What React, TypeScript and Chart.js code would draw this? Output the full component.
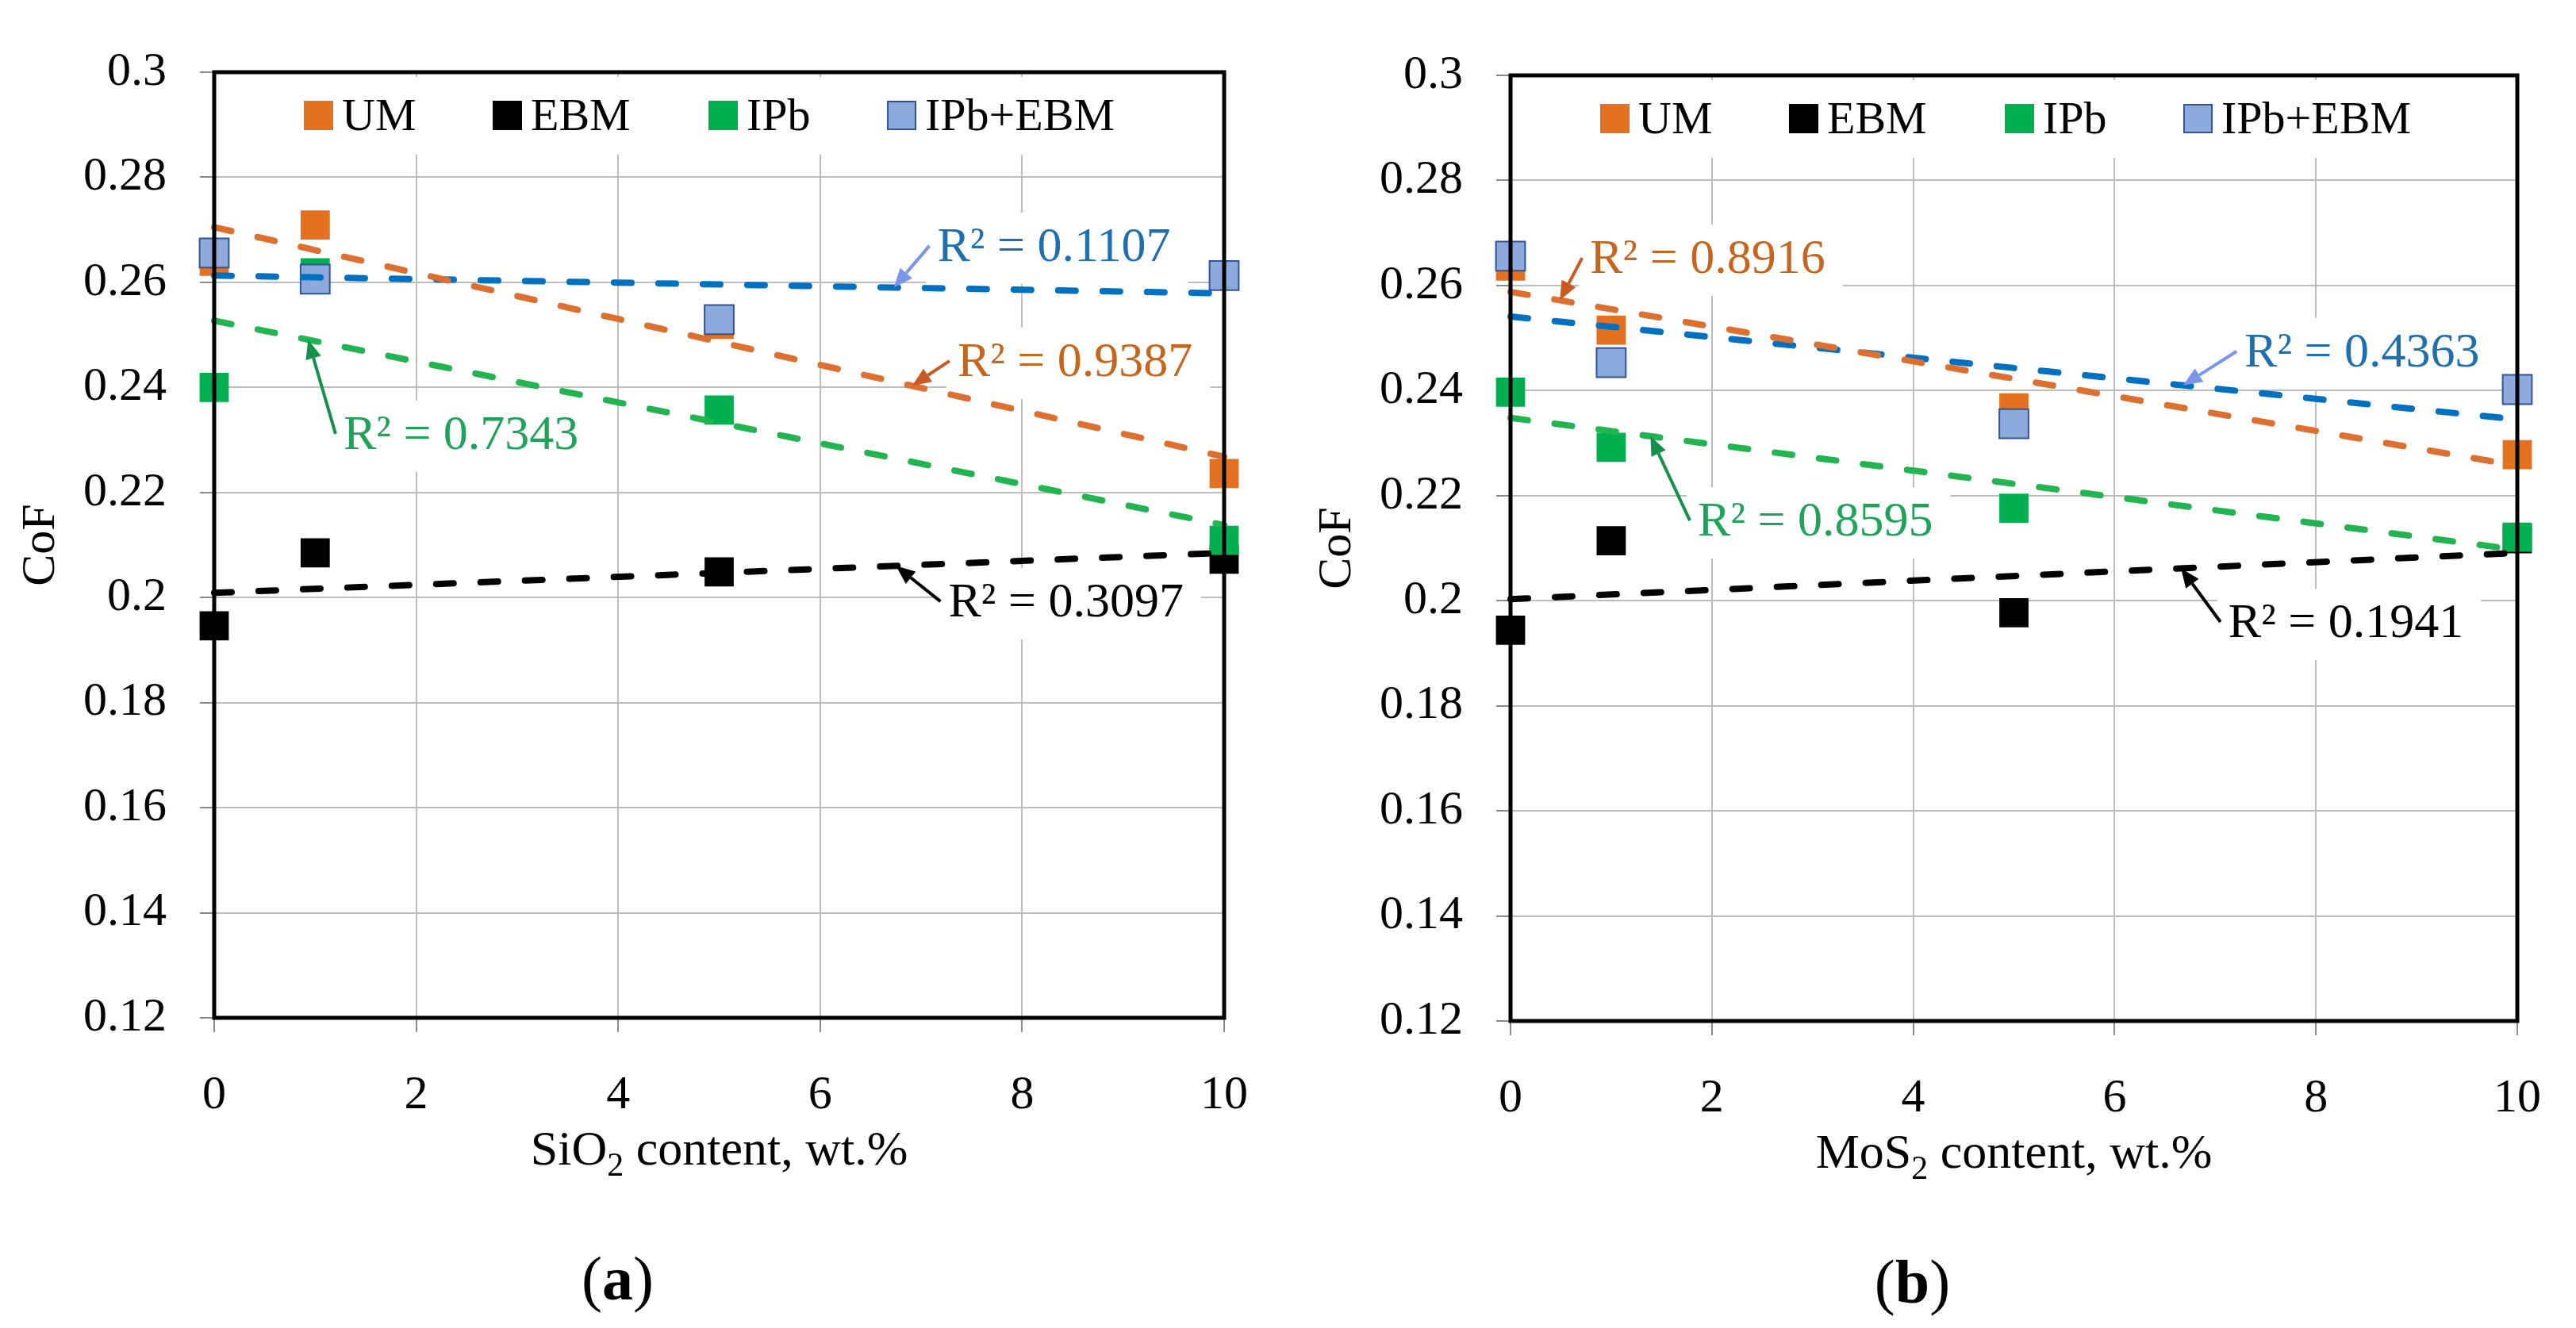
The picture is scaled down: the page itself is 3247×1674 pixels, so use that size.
import React, { useEffect, useRef } from 'react';
import { Chart, registerables } from 'chart.js';

Chart.register(...registerables);

const FONT = '"Liberation Serif", "Times New Roman", "DejaVu Serif", serif';

// ---------- data ----------
const contentX = [0, 1, 5, 10];
const seriesNames = ['UM', 'EBM', 'IPb', 'IPb+EBM'];
const xTicks = [0, 2, 4, 6, 8, 10];
const yTicks = [0.12, 0.14, 0.16, 0.18, 0.2, 0.22, 0.24, 0.26, 0.28, 0.3];
const trendX = [0, 10];

// (a) SiO2
const sio2UM = [0.264, 0.2709, 0.252, 0.2236];
const sio2EBM = [0.1946, 0.2085, 0.2049, 0.2073];
const sio2IPb = [0.24, 0.2618, 0.2357, 0.2109];
const sio2IPbEBM = [0.2656, 0.2606, 0.2529, 0.2613];
const sio2TrendUM = [0.2705, 0.2268];
const sio2TrendEBM = [0.2009, 0.2085];
const sio2TrendIPb = [0.2527, 0.2138];
const sio2TrendIPbEBM = [0.2613, 0.2579];
const sio2R2 = ['0.9387', '0.3097', '0.7343', '0.1107'];
const sio2LabelX = [7.36, 7.27, 1.28, 7.16];
const sio2LabelY = [0.2446, 0.1988, 0.2307, 0.2665];
const sio2ArrowX = [6.91, 6.75, 0.93, 6.73];

// (b) MoS2
const mos2UM = [0.2637, 0.2515, 0.2367, 0.2278];
const mos2EBM = [0.1944, 0.2114, 0.1977, 0.2118];
const mos2IPb = [0.2397, 0.2292, 0.2176, 0.2121];
const mos2IPbEBM = [0.2656, 0.2453, 0.2337, 0.2402];
const mos2TrendUM = [0.2588, 0.2257];
const mos2TrendEBM = [0.2003, 0.2091];
const mos2TrendIPb = [0.2348, 0.2097];
const mos2TrendIPbEBM = [0.2541, 0.2345];
const mos2R2 = ['0.8916', '0.1941', '0.8595', '0.4363'];
const mos2LabelX = [0.79, 7.13, 1.86, 7.29];
const mos2LabelY = [0.2648, 0.1955, 0.2148, 0.247];
const mos2ArrowX = [0.49, 6.66, 1.39, 6.68];

// ---------- styles ----------
const markerFill = ['#E4711F', '#000000', '#00B050', '#8EA9DB'];
const markerBorder = ['#E4711F', '#000000', '#00B050', '#2F5597'];
const trendColor = ['#DD7030', '#000000', '#22B450', '#0070C0'];
const labelColor = ['#C5651E', '#000000', '#1FA35A', '#1F6FAF'];
const arrowColor = ['#C85A22', '#000000', '#15904A', '#7A95EA'];
const markerOrder = [4, 3, 2, 1];
const legendOffsets = [113, 351, 623, 848];
const GRID = '#BDBDBD';
const TICK = '#8A8A8A';

type PanelCfg = {
  left: number;
  width: number;
  padTop: number;
  padRight: number;
  yAxisW: number;
  xAxisH: number;
  titleMain: string;
  titleSub: string;
  titleRest: string;
  panel: string;
  series: number[][];
  trends: number[][];
  r2: string[];
  labelX: number[];
  labelY: number[];
  arrowX: number[];
};

const panels: PanelCfg[] = [
  {
    left: 0, width: 1624, padTop: 91, padRight: 81, yAxisW: 270, xAxisH: 391,
    titleMain: 'SiO', titleSub: '2', titleRest: ' content, wt.%', panel: 'a',
    series: [sio2UM, sio2EBM, sio2IPb, sio2IPbEBM],
    trends: [sio2TrendUM, sio2TrendEBM, sio2TrendIPb, sio2TrendIPbEBM],
    r2: sio2R2, labelX: sio2LabelX, labelY: sio2LabelY, arrowX: sio2ArrowX,
  },
  {
    left: 1624, width: 1623, padTop: 95, padRight: 66, yAxisW: 280, xAxisH: 387,
    titleMain: 'MoS', titleSub: '2', titleRest: ' content, wt.%', panel: 'b',
    series: [mos2UM, mos2EBM, mos2IPb, mos2IPbEBM],
    trends: [mos2TrendUM, mos2TrendEBM, mos2TrendIPb, mos2TrendIPbEBM],
    r2: mos2R2, labelX: mos2LabelX, labelY: mos2LabelY, arrowX: mos2ArrowX,
  },
];

const LABEL_FONT = `62px ${FONT}`;

function labelBoxes(chart: any, cfg: PanelCfg) {
  const { ctx, scales } = chart;
  ctx.save();
  ctx.font = LABEL_FONT;
  const out = cfg.r2.map((r, i) => {
    const text = `R² = ${r}`;
    const px = scales.x.getPixelForValue(cfg.labelX[i]);
    const py = scales.y.getPixelForValue(cfg.labelY[i]);
    const w = ctx.measureText(text).width;
    return { text, px, py, w };
  });
  ctx.restore();
  return out;
}

function makePlugin(cfg: PanelCfg) {
  return {
    id: 'deco',
    beforeDatasetsDraw(chart: any) {
      const { ctx, chartArea: a } = chart;
      ctx.save();
      ctx.fillStyle = '#ffffff';
      ctx.fillRect(a.left + 95, a.top + 6, 1110, 98);
      labelBoxes(chart, cfg).forEach((b) => {
        ctx.fillRect(b.px - 14, b.py - 45, b.w + 36, 90);
      });
      ctx.restore();
    },
    afterDatasetsDraw(chart: any) {
      const { ctx, chartArea: a, scales } = chart;
      ctx.save();
      // plot border
      ctx.strokeStyle = '#000';
      ctx.lineWidth = 5;
      ctx.strokeRect(a.left, a.top, a.right - a.left, a.bottom - a.top);

      // legend
      ctx.font = `58px ${FONT}`;
      ctx.textBaseline = 'middle';
      ctx.textAlign = 'left';
      seriesNames.forEach((name, i) => {
        const x = a.left + legendOffsets[i];
        const y = a.top + 36;
        ctx.fillStyle = markerFill[i];
        ctx.fillRect(x, y, 37, 37);
        if (markerBorder[i] !== markerFill[i]) {
          ctx.strokeStyle = markerBorder[i];
          ctx.lineWidth = 2;
          ctx.strokeRect(x + 1, y + 1, 35, 35);
        }
        ctx.fillStyle = '#000';
        ctx.fillText(name, x + 48, a.top + 58);
      });

      // R² labels + arrows
      const boxes = labelBoxes(chart, cfg);
      boxes.forEach((b, i) => {
        ctx.font = LABEL_FONT;
        ctx.fillStyle = labelColor[i];
        ctx.textBaseline = 'middle';
        ctx.textAlign = 'left';
        ctx.fillText(b.text, b.px, b.py);
        const t = cfg.trends[i];
        const ax = cfg.arrowX[i];
        const ay = t[0] + ((t[1] - t[0]) * (ax - trendX[0])) / (trendX[1] - trendX[0]);
        const hx = scales.x.getPixelForValue(ax);
        const hy = scales.y.getPixelForValue(ay);
        const tx = b.px - 10;
        const ty = b.py - 3;
        const ang = Math.atan2(hy - ty, hx - tx);
        const headLen = 24;
        const headW = 10;
        const bx = hx - headLen * Math.cos(ang);
        const by = hy - headLen * Math.sin(ang);
        ctx.strokeStyle = arrowColor[i];
        ctx.fillStyle = arrowColor[i];
        ctx.lineWidth = 4;
        ctx.beginPath();
        ctx.moveTo(tx, ty);
        ctx.lineTo(bx, by);
        ctx.stroke();
        ctx.beginPath();
        ctx.moveTo(hx, hy);
        ctx.lineTo(bx + headW * Math.sin(ang), by - headW * Math.cos(ang));
        ctx.lineTo(bx - headW * Math.sin(ang), by + headW * Math.cos(ang));
        ctx.closePath();
        ctx.fill();
      });

      // y title
      ctx.fillStyle = '#000';
      ctx.save();
      ctx.translate(a.left - 218, (a.top + a.bottom) / 2);
      ctx.rotate(-Math.PI / 2);
      ctx.font = `60px ${FONT}`;
      ctx.textAlign = 'center';
      ctx.textBaseline = 'middle';
      ctx.fillText('CoF', 0, 0);
      ctx.restore();

      // x title with subscript
      const mainF = `62px ${FONT}`;
      const subF = `42px ${FONT}`;
      ctx.textAlign = 'left';
      ctx.textBaseline = 'alphabetic';
      ctx.font = mainF;
      const w1 = ctx.measureText(cfg.titleMain).width;
      const w3 = ctx.measureText(cfg.titleRest).width;
      ctx.font = subF;
      const w2 = ctx.measureText(cfg.titleSub).width;
      const total = w1 + w2 + w3;
      const cx = (a.left + a.right) / 2;
      const base = a.bottom + 185;
      let x = cx - total / 2;
      ctx.font = mainF;
      ctx.fillText(cfg.titleMain, x, base);
      x += w1;
      ctx.font = subF;
      ctx.fillText(cfg.titleSub, x, base + 14);
      x += w2;
      ctx.font = mainF;
      ctx.fillText(cfg.titleRest, x, base);

      // panel label
      const pF = `78px ${FONT}`;
      const pB = `bold 78px ${FONT}`;
      ctx.font = pF;
      const pw1 = ctx.measureText('(').width;
      const pw3 = ctx.measureText(')').width;
      ctx.font = pB;
      const pw2 = ctx.measureText(cfg.panel).width;
      const pcx = cx - 128;
      const pbase = a.bottom + 355;
      let px = pcx - (pw1 + pw2 + pw3) / 2;
      ctx.font = pF;
      ctx.fillText('(', px, pbase);
      px += pw1;
      ctx.font = pB;
      ctx.fillText(cfg.panel, px, pbase);
      px += pw2;
      ctx.font = pF;
      ctx.fillText(')', px, pbase);

      ctx.restore();
    },
  };
}

function Panel({ cfg }: { cfg: PanelCfg }) {
  const ref = useRef<HTMLCanvasElement>(null);
  useEffect(() => {
    if (!ref.current) return;
    const markerSets = cfg.series.map((vals, i) => ({
      type: 'scatter' as const,
      label: seriesNames[i],
      data: contentX.map((x, k) => ({ x, y: vals[k] })),
      pointStyle: 'rect',
      pointRadius: 26,
      pointHoverRadius: 26,
      backgroundColor: markerFill[i],
      borderColor: markerBorder[i],
      borderWidth: markerBorder[i] !== markerFill[i] ? 2 : 0,
      showLine: false,
      clip: false as any,
      order: markerOrder[i],
    }));
    const trendSets = cfg.trends.map((t, i) => ({
      type: 'scatter' as const,
      label: `${seriesNames[i]} trend`,
      data: trendX.map((x, k) => ({ x, y: t[k] })),
      showLine: true,
      pointRadius: 0,
      pointHoverRadius: 0,
      borderColor: trendColor[i],
      backgroundColor: trendColor[i],
      borderWidth: 8,
      borderDash: [22, 34],
      borderCapStyle: 'round' as const,
      clip: false as any,
      order: 0,
    }));
    const chart = new Chart(ref.current, {
      type: 'scatter',
      data: { datasets: [...markerSets, ...trendSets] as any },
      options: {
        animation: false,
        responsive: false,
        devicePixelRatio: 1,
        layout: { padding: { left: 0, top: cfg.padTop, right: cfg.padRight, bottom: 0 } },
        plugins: { legend: { display: false }, tooltip: { enabled: false } },
        scales: {
          x: {
            type: 'linear',
            min: 0,
            max: 10,
            afterBuildTicks: (ax: any) => {
              ax.ticks = xTicks.map((v) => ({ value: v }));
            },
            afterFit: (s: any) => {
              s.height = cfg.xAxisH;
            },
            grid: { color: GRID, lineWidth: 2, drawTicks: true, tickLength: 18, tickColor: TICK, tickWidth: 2 },
            border: { display: false },
            ticks: {
              color: '#000',
              font: { family: FONT, size: 60 },
              padding: 44,
              maxRotation: 0,
              autoSkip: false,
              callback: (v: any) => String(v),
            },
          },
          y: {
            type: 'linear',
            min: 0.12,
            max: 0.3,
            afterBuildTicks: (ax: any) => {
              ax.ticks = yTicks.map((v) => ({ value: v }));
            },
            afterFit: (s: any) => {
              s.width = cfg.yAxisW;
            },
            grid: { color: GRID, lineWidth: 2, drawTicks: true, tickLength: 18, tickColor: TICK, tickWidth: 2 },
            border: { display: false },
            ticks: {
              color: '#000',
              font: { family: FONT, size: 60 },
              padding: 42,
              autoSkip: false,
              callback: (v: any) => String(Number(Number(v).toFixed(2))),
            },
          },
        },
      },
      plugins: [makePlugin(cfg)],
    } as any);
    return () => chart.destroy();
  }, [cfg]);
  return (
    <canvas
      ref={ref}
      width={cfg.width}
      height={1674}
      style={{ position: 'absolute', left: cfg.left, top: 0, width: cfg.width, height: 1674 }}
    />
  );
}

export default function App() {
  return (
    <div style={{ position: 'absolute', left: 0, top: 0, width: 3247, height: 1674, background: '#fff' }}>
      {panels.map((p) => (
        <Panel key={p.panel} cfg={p} />
      ))}
    </div>
  );
}
